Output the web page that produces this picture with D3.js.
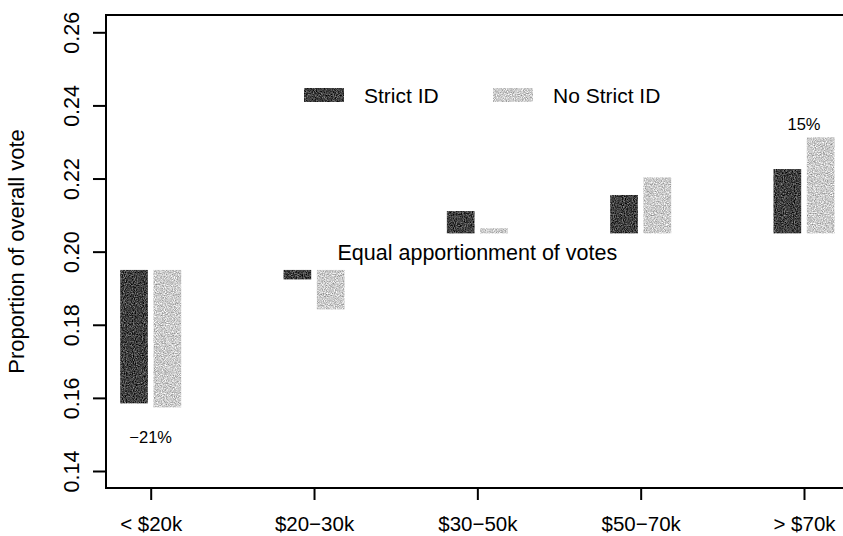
<!DOCTYPE html>
<html><head><meta charset="utf-8">
<script src="https://cdn.jsdelivr.net/npm/d3@7"></script>
<style>
html,body{margin:0;padding:0;background:#fff;}
svg text{font-family:"Liberation Sans",Arial,Helvetica,sans-serif;fill:#000;}
</style></head>
<body>
<svg id="chart" width="843" height="536"></svg>
<script>
const categories = ["< $20k", "$20\u221230k", "$30\u221250k", "$50\u221270k", "> $70k"];
const seriesNames = ["Strict ID", "No Strict ID"];
const strictID   = [0.1585, 0.1924, 0.2111, 0.2155, 0.2226];
const noStrictID = [0.1574, 0.1842, 0.2064, 0.2203, 0.2313];
const yTicks = [0.14, 0.16, 0.18, 0.20, 0.22, 0.24, 0.26];
const equalLevel = 0.20;
const gapHalf = 0.005;
const pctLabels = [{cat: 0, text: "\u221221%", pos: "below"}, {cat: 4, text: "15%", pos: "above"}];

(function(){
const svg = d3.select("#chart");
const defs = svg.append("defs");
function noiseFilter(id, slope, intercept, seed){
  const f = defs.append("filter").attr("id", id)
    .attr("x", 0).attr("y", 0).attr("width", 1).attr("height", 1)
    .attr("filterUnits", "objectBoundingBox").attr("color-interpolation-filters", "sRGB");
  f.append("feTurbulence").attr("type", "fractalNoise").attr("baseFrequency", 0.9)
    .attr("numOctaves", 2).attr("seed", seed).attr("result", "n");
  const v = `${slope} 0 0 0 ${intercept}  ${slope} 0 0 0 ${intercept}  ${slope} 0 0 0 ${intercept}  0 0 0 0 1`;
  f.append("feColorMatrix").attr("in", "n").attr("type", "matrix").attr("values", v).attr("result", "g");
  f.append("feComposite").attr("in", "g").attr("in2", "SourceGraphic").attr("operator", "in");
}
noiseFilter("nDark", 0.9, -0.2, 3);
noiseFilter("nLight", 0.75, 0.42, 7);
const fills = {"Strict ID": {color: "#3a3a3a", filter: "url(#nDark)"},
               "No Strict ID": {color: "#c8c8c8", filter: "url(#nLight)"}};

const x = d3.scalePoint().domain(categories).range([150.7, 804]);
const inner = d3.scaleBand().domain(seriesNames).range([-30.5, 30.5]).paddingInner(0.169);
const y = d3.scaleLinear().domain([0.14, 0.26]).range([471, 32.3]);

const pL = 106, pT = 15, pB = 488, pR = 870;

// frame
svg.append("rect").attr("x", pL).attr("y", pT).attr("width", pR - pL).attr("height", pB - pT)
  .attr("fill", "none").attr("stroke", "#000").attr("stroke-width", 2);

// y axis
const yAxis = d3.axisLeft(y).tickValues(yTicks).tickSize(13).tickFormat(d3.format(".2f"));
const gy = svg.append("g").attr("transform", `translate(${pL},0)`).call(yAxis);
gy.select(".domain").remove();
gy.selectAll(".tick line").attr("stroke", "#000").attr("stroke-width", 2);
gy.selectAll(".tick text").attr("font-size", 21.5).attr("x", null).attr("dy", null)
  .attr("text-anchor", "middle")
  .attr("transform", "translate(-27,0) rotate(-90)");

// x axis
const xAxis = d3.axisBottom(x).tickSize(12).tickSizeOuter(0);
const gx = svg.append("g").attr("transform", `translate(0,${pB})`).call(xAxis);
gx.select(".domain").remove();
gx.selectAll(".tick line").attr("stroke", "#000").attr("stroke-width", 2);
gx.selectAll(".tick text").attr("font-size", 20.5).attr("y", 43).attr("dy", null);

// y label
svg.append("text").attr("transform", `translate(24,${(pT + pB) / 2}) rotate(-90)`)
  .attr("text-anchor", "middle").attr("font-size", 22).text("Proportion of overall vote");

// bars
const rows = [];
categories.forEach((c, i) => {
  [[seriesNames[0], strictID[i]], [seriesNames[1], noStrictID[i]]].forEach(([s, v]) => {
    const base = v < equalLevel ? equalLevel - gapHalf : equalLevel + gapHalf;
    rows.push({cat: c, series: s, value: v, base: base});
  });
});
svg.append("g").selectAll("rect").data(rows).join("rect")
  .attr("x", d => x(d.cat) + inner(d.series))
  .attr("width", inner.bandwidth())
  .attr("y", d => y(Math.max(d.value, d.base)))
  .attr("height", d => Math.abs(y(d.value) - y(d.base)))
  .attr("fill", d => fills[d.series].color)
  .attr("filter", d => fills[d.series].filter);

// equal apportionment label
svg.append("text").attr("x", x(categories[2])).attr("y", y(equalLevel) + 8)
  .attr("text-anchor", "middle").attr("font-size", 21.5).text("Equal apportionment of votes");

// percentage labels
pctLabels.forEach(p => {
  const c = categories[p.cat];
  const vals = [strictID[p.cat], noStrictID[p.cat]];
  const yy = p.pos === "below" ? y(d3.min(vals)) + 36 : y(d3.max(vals)) - 7;
  svg.append("text").attr("x", x(c)).attr("y", yy).attr("text-anchor", "middle")
    .attr("font-size", 16.5).text(p.text);
});

// legend
const legend = [{name: seriesNames[0], x: 304}, {name: seriesNames[1], x: 493}];
legend.forEach(l => {
  svg.append("rect").attr("x", l.x).attr("y", 88).attr("width", 40).attr("height", 14)
    .attr("fill", fills[l.name].color).attr("filter", fills[l.name].filter);
  svg.append("text").attr("x", l.x + 60).attr("y", 102.5).attr("font-size", 21).text(l.name);
});
})();
</script>
</body></html>
